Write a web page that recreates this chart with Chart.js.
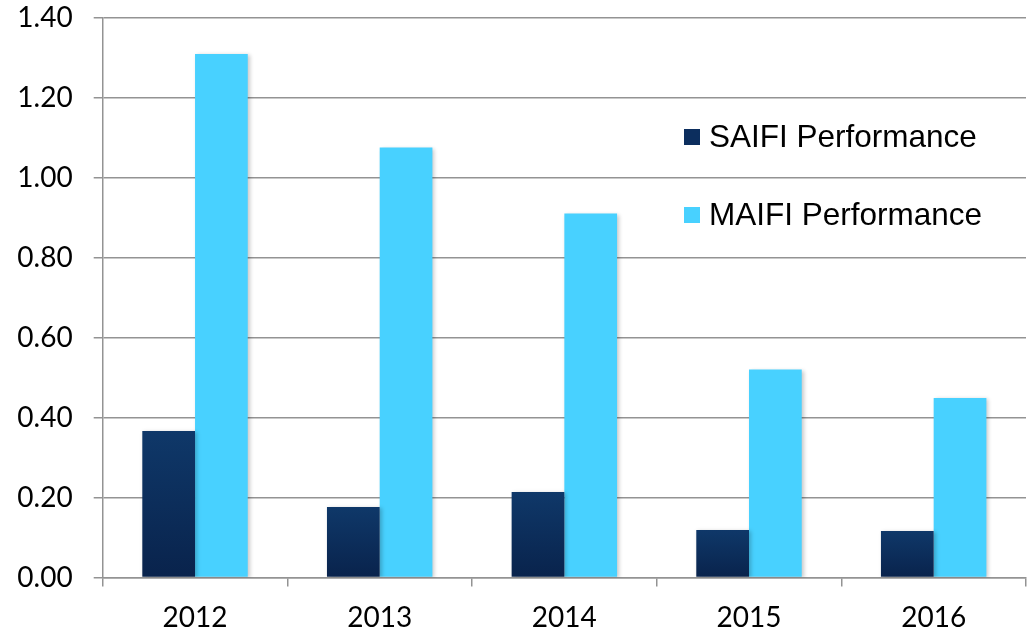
<!DOCTYPE html>
<html>
<head>
<meta charset="utf-8">
<script src="https://cdn.jsdelivr.net/npm/chart.js@4.4.1/dist/chart.umd.min.js"></script>
<style>
  html, body { margin: 0; padding: 0; background: #fff; }
  #wrap { width: 1032px; height: 631px; }
</style>
</head>
<body>
<div id="wrap"><canvas id="mainChart" width="1032" height="631"></canvas></div>
<script>
// data
const years = ['2012', '2013', '2014', '2015', '2016'];
const saifi = [0.366, 0.176, 0.214, 0.119, 0.116];
const maifi = [1.309, 1.075, 0.910, 0.520, 0.449];
const seriesNames = ['SAIFI Performance', 'MAIFI Performance'];
const yTicks = [0, 0.2, 0.4, 0.6, 0.8, 1.0, 1.2, 1.4];

const GRID = '#939393';
const TICK_FONT = { family: "Lato, 'Open Sans', sans-serif", size: 28 };

// dark navy bars: each bar lighter at its top, darker at the base
function saifiFill(ctx) {
    const chart = ctx.chart, area = chart.chartArea;
    if (!area || ctx.type !== 'data' || !chart.scales.y) return '#0b2d5c';
    const top = chart.scales.y.getPixelForValue(ctx.raw);
    const g = chart.ctx.createLinearGradient(0, top, 0, area.bottom);
    g.addColorStop(0, '#0f3869');
    g.addColorStop(1, '#09234c');
    return g;
}

// soft drop shadow like the office chart
const barShadow = {
    id: 'barShadow',
    beforeDatasetsDraw: (chart) => {
        const c = chart.ctx; c.save();
        c.shadowColor = 'rgba(0,0,0,0.22)'; c.shadowBlur = 4; c.shadowOffsetX = 2; c.shadowOffsetY = 1;
    },
    afterDatasetsDraw: (chart) => { chart.ctx.restore(); }
};

// legend drawn inside the plot, right side
const insideLegend = {
    id: 'insideLegend',
    afterDraw: (chart) => {
        const c = chart.ctx; c.save();
        c.font = "31.5px 'Liberation Sans', Arial, sans-serif";
        c.textBaseline = 'alphabetic';
        chart.data.datasets.forEach((ds, i) => {
            const y = 129 + i * 78;
            c.fillStyle = i === 0 ? '#0c2e5e' : ds.backgroundColor;
            c.fillRect(684, y, 16, 16);
            c.fillStyle = '#000';
            c.fillText(ds.label, 709, y + 18);
        });
        c.restore();
    }
};

window.mainChart = new Chart(document.getElementById('mainChart'), {
    type: 'bar',
    data: {
        labels: years,
        datasets: [
            { label: seriesNames[0], data: saifi, backgroundColor: saifiFill, borderWidth: 0 },
            { label: seriesNames[1], data: maifi, backgroundColor: '#48d1ff', borderWidth: 0 }
        ]
    },
    options: {
        responsive: false,
        animation: false,
        devicePixelRatio: 1,
        layout: { padding: { top: 17.5, right: 6, left: 0, bottom: 0 } },
        datasets: { bar: { categoryPercentage: 0.571, barPercentage: 1.0 } },
        scales: {
            x: {
                offset: true,
                grid: { display: true, offset: true, drawOnChartArea: false, drawTicks: true, tickLength: 9, color: GRID, lineWidth: 1.5 },
                border: { display: true, color: GRID, width: 1.5 },
                ticks: { color: '#000', font: TICK_FONT, padding: 15, maxRotation: 0 },
                afterFit: (s) => { s.height = 53.5; s.paddingLeft = 0; s.paddingRight = 0; }
            },
            y: {
                min: 0, max: 1.4,
                afterBuildTicks: (s) => { s.ticks = yTicks.map(v => ({ value: v })); },
                grid: { color: GRID, lineWidth: 1.5, tickLength: 9, drawTicks: true },
                border: { display: true, color: GRID, width: 1.5 },
                ticks: { color: '#000', font: TICK_FONT, padding: 21, callback: (v) => Number(v).toFixed(2) },
                afterFit: (s) => { s.width = 102.7; s.paddingTop = 0; s.paddingBottom = 0; }
            }
        },
        plugins: {
            legend: { display: false },
            tooltip: { enabled: false }
        }
    },
    plugins: [barShadow, insideLegend]
});
</script>
</body>
</html>
